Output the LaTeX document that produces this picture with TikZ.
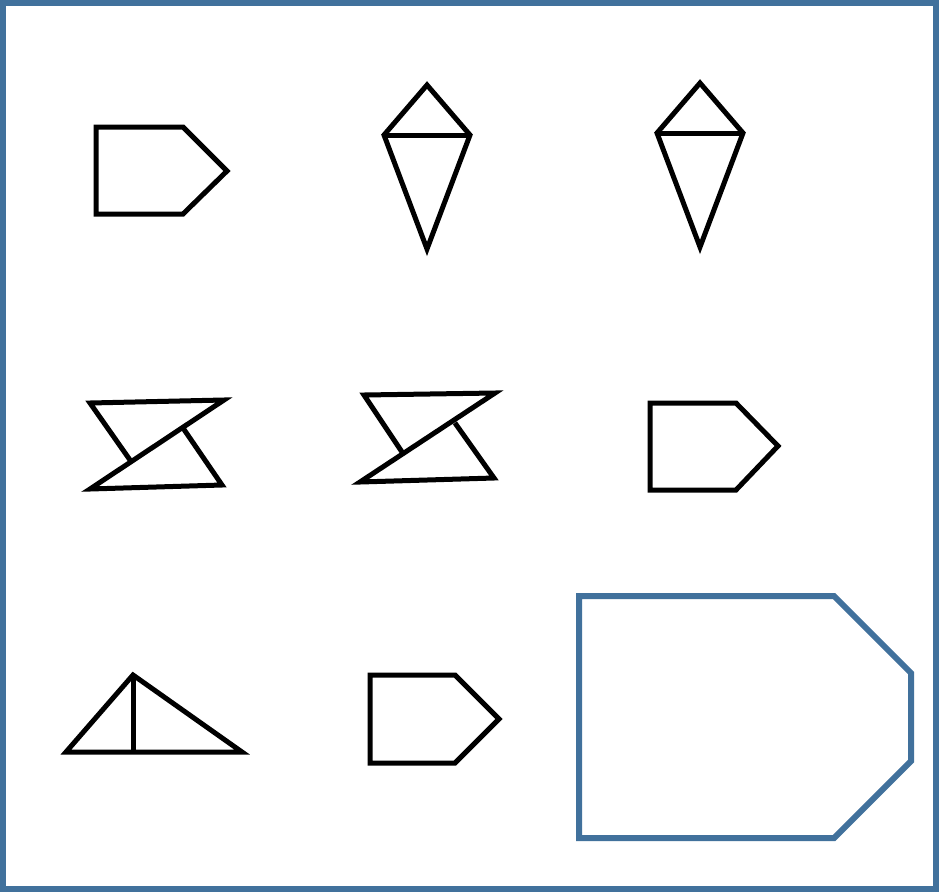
\documentclass[tikz,border=0pt]{standalone}
\definecolor{frameblue}{RGB}{65,113,156}
\begin{document}
\begin{tikzpicture}[x=1pt,y=-1pt,
  shape line/.style={draw=black,line width=5pt,line join=miter,miter limit=4},
  blue line/.style={draw=frameblue,line width=6pt,line join=miter}]
\useasboundingbox (0,0) rectangle (939,892);
\fill[white] (0,0) rectangle (939,892);
% outer frame
\draw[blue line] (3,3) rectangle (936,889);
% row 1
\draw[shape line] (96,127) -- (183,127) -- (227,171) -- (183,214) -- (96,214) -- cycle;
\draw[shape line] (427,85) -- (470,135) -- (427,249) -- (384,135) -- cycle;
\draw[shape line] (384,135) -- (470,135);
\draw[shape line] (700,83) -- (743,133) -- (700,247) -- (657,133) -- cycle;
\draw[shape line] (657,133) -- (743,133);
% row 2
\draw[shape line] (130,460) -- (90,403) -- (224,400) -- (90,489) -- (222,485) -- (183,428);
\draw[shape line] (402,452) -- (364,395) -- (495,393) -- (360,482) -- (494,478) -- (455,423);
\draw[shape line] (650,403) -- (736,403) -- (778,446) -- (736,490) -- (650,490) -- cycle;
% row 3
\draw[shape line] (66,752) -- (133,675) -- (242,752) -- cycle;
\draw[shape line] (133,675) -- (133,752);
\draw[shape line] (370,675) -- (455,675) -- (499,719) -- (455,763) -- (370,763) -- cycle;
\draw[blue line] (579,596) -- (834,596) -- (911,673) -- (911,761) -- (834,838) -- (579,838) -- cycle;
\end{tikzpicture}
\end{document}
